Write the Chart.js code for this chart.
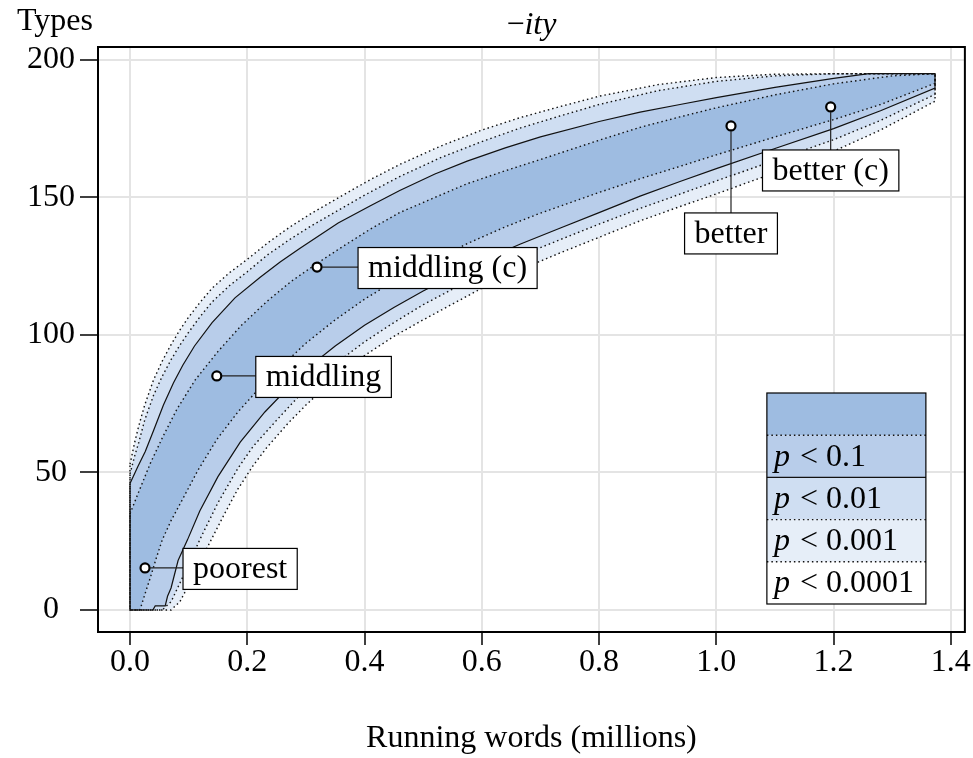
<!DOCTYPE html>
<html>
<head>
<meta charset="utf-8">
<script src="https://cdn.jsdelivr.net/npm/chart.js@4.4.1/dist/chart.umd.min.js"></script>
<style>
  html, body { margin: 0; padding: 0; background: #fff; }
  #wrap { width: 973px; height: 758px; }
</style>
</head>
<body>
<div id="wrap"><canvas id="chart" width="973" height="758"></canvas></div>
<script>
// TICKS
const xTicks = [0, 0.2, 0.4, 0.6, 0.8, 1.0, 1.2, 1.4];
const yTicks = [0, 50, 100, 150, 200];

// BAND EDGES [running words (millions), types]
const upper4 = [[0,53],[0.008,61],[0.015,67],[0.025,74.5],[0.04,83.6],[0.055,90.5],[0.07,96.5],[0.085,101.8],[0.1,106.5],[0.12,112],[0.14,117],[0.17,122.7],[0.2,127.5],[0.235,133.5],[0.273,139.3],[0.31,144.3],[0.358,150.2],[0.41,156.5],[0.46,162],[0.53,168.7],[0.6,174.5],[0.665,179],[0.733,183],[0.8,186.8],[0.9,191],[1.0,193.6],[1.1,194.8],[1.22,195],[1.373,195]];
const upper3 = [[0,49.5],[0.008,56],[0.015,61],[0.025,69],[0.04,78],[0.055,85],[0.07,91],[0.085,96.3],[0.1,101],[0.12,106.8],[0.14,112],[0.17,118],[0.2,123],[0.235,129.2],[0.273,134.8],[0.31,139.8],[0.358,145.7],[0.41,152],[0.46,157.6],[0.53,164.5],[0.6,170.3],[0.665,175.2],[0.733,179.6],[0.8,183.8],[0.9,188.8],[1.0,192.2],[1.1,194.2],[1.2,195],[1.373,195]];
const upper2 = [[0,46],[0.013,52],[0.026,57.6],[0.04,65.2],[0.057,74.5],[0.074,82.5],[0.09,89],[0.11,96],[0.14,104.5],[0.179,113.5],[0.222,121],[0.256,126.5],[0.29,131.5],[0.355,140.7],[0.41,147],[0.46,152.5],[0.52,158.5],[0.575,163.2],[0.64,168],[0.7,172],[0.8,177.6],[0.87,181],[0.938,183.8],[1.0,186.3],[1.1,190],[1.2,193.3],[1.26,195],[1.373,195]];
const upper1 = [[0,35],[0.014,42.5],[0.035,53.5],[0.056,63],[0.08,73],[0.111,83.6],[0.15,94],[0.19,103.5],[0.234,112.3],[0.275,119.5],[0.319,126],[0.358,131.5],[0.41,138.5],[0.46,144.5],[0.52,150],[0.575,155],[0.64,159.7],[0.7,163.8],[0.8,170.8],[0.87,175.5],[0.938,179.3],[1.0,182.6],[1.1,187.3],[1.2,191.3],[1.3,194.2],[1.373,195]];
const lower1 = [[0,0],[0.017,0],[0.025,5.5],[0.035,12],[0.045,19],[0.055,25.5],[0.07,32.5],[0.089,40],[0.115,50.5],[0.148,62],[0.184,72],[0.22,80.5],[0.25,87],[0.3,97],[0.35,105.5],[0.4,113],[0.45,119.5],[0.5,125.3],[0.575,133.2],[0.64,139.3],[0.7,144.3],[0.8,151.8],[0.87,156.8],[0.938,161.3],[1.0,165.5],[1.1,172],[1.2,178.3],[1.28,183.8],[1.373,191.5]];
const lower2 = [[0,0],[0.039,0],[0.043,1.5],[0.06,1.5],[0.064,5],[0.07,8],[0.082,18],[0.098,25.5],[0.119,36],[0.15,48.5],[0.188,61],[0.23,72],[0.3,87.5],[0.35,96],[0.4,103.5],[0.45,110],[0.5,116],[0.6,127],[0.665,133],[0.733,138.8],[0.8,144.5],[0.87,150.5],[0.938,155.8],[1.0,160.5],[1.1,167.8],[1.2,175],[1.28,181.5],[1.373,189.8]];
const lower3 = [[0,0],[0.055,0],[0.07,3],[0.09,12],[0.105,19],[0.12,26],[0.15,39],[0.184,51.5],[0.21,59.5],[0.25,69],[0.3,80.5],[0.35,89.5],[0.4,97.5],[0.45,104.5],[0.5,111],[0.6,122.3],[0.665,128.7],[0.733,134.6],[0.8,140.3],[0.87,146],[0.938,151.2],[1.0,156],[1.1,163.5],[1.2,171],[1.28,178],[1.373,187.5]];
const lower4 = [[0,0],[0.07,0],[0.085,3],[0.1,9],[0.115,15.5],[0.13,22],[0.16,34.5],[0.184,44],[0.21,52.5],[0.233,59],[0.27,68],[0.3,74.5],[0.35,84.5],[0.4,92.5],[0.45,99.5],[0.5,105.5],[0.6,117],[0.665,123.7],[0.733,129.8],[0.8,135.5],[0.87,141.5],[0.938,146.7],[1.0,151.3],[1.1,159],[1.2,166.8],[1.28,174.5],[1.373,185]];

// LABELLED POINTS
const labelNames = ['poorest', 'middling', 'middling (c)', 'better', 'better (c)'];
const labelX = [0.0256, 0.148, 0.319, 1.025, 1.195];
const labelY = [15.3, 85.1, 124.7, 176, 182.9];

// LEGEND
const legendThresholds = ['', '0.1', '0.01', '0.001', '0.0001'];

// styles / layout
const bandColors = ['#E6EEF8', '#CFDEF2', '#B8CDEA', '#9EBCE1'];
const edgeStyles = ['dotted', 'dotted', 'solid', 'dotted'];
const legendColors = ['#9EBCE1', '#B8CDEA', '#CFDEF2', '#E6EEF8', '#FFFFFF'];
const legendSeparators = ['dotted', 'solid', 'dotted', 'dotted'];
const labelSide = ['right', 'right', 'right', 'below', 'below'];
const labelGap = [38, 39, 41, 87, 43];
const serif = "'Liberation Serif', 'Times New Roman', serif";
const fs = 32;

function ring(upper, lower) {
    const pts = upper.concat(lower.slice().reverse());
    pts.push(upper[0]);
    return pts.map(([x, y]) => ({ x, y }));
}

function setEdge(ctx, style) {
    ctx.strokeStyle = '#111';
    if (style === 'dotted') { ctx.lineWidth = 1.4; ctx.setLineDash([1.5, 3]); }
    else { ctx.lineWidth = 1.2; ctx.setLineDash([]); }
}

const rings = [[upper4, lower4], [upper3, lower3], [upper2, lower2], [upper1, lower1]];

const datasets = [];
rings.forEach((r, i) => {
    datasets.push({
        data: ring(r[0], r[1]),
        fill: 'shape',
        backgroundColor: bandColors[i],
        borderWidth: 0,
        pointRadius: 0,
        order: 20 - i
    });
});
rings.forEach((r, i) => {
    const dotted = edgeStyles[i] === 'dotted';
    datasets.push({
        data: ring(r[0], r[1]),
        fill: false,
        borderColor: '#111',
        borderWidth: dotted ? 1.4 : 1.2,
        borderDash: dotted ? [1.5, 3] : [],
        pointRadius: 0,
        order: 10 - i
    });
});
datasets.push({
    data: labelX.map((x, i) => ({ x, y: labelY[i] })),
    showLine: false,
    pointRadius: 4.5,
    pointBackgroundColor: '#fff',
    pointBorderColor: '#000',
    pointBorderWidth: 2.2,
    order: 0
});

// Textes, cadre, étiquettes, légende
const extras = {
    id: 'extras',
    afterDatasetsDraw(chart) {
        const { ctx, chartArea: a, scales: { x, y } } = chart;
        ctx.save();
        ctx.fillStyle = '#000';
        ctx.textBaseline = 'middle';

        // frame
        ctx.setLineDash([]);
        ctx.strokeStyle = '#000';
        ctx.lineWidth = 2;
        ctx.strokeRect(a.left, a.top, a.right - a.left, a.bottom - a.top);

        // axis label on top + title
        ctx.font = fs + 'px ' + serif;
        ctx.textAlign = 'center';
        ctx.fillText('Types', 55, 22);
        const minus = '\u2212';
        const wm = ctx.measureText(minus).width;
        ctx.font = 'italic ' + fs + 'px ' + serif;
        const wi = ctx.measureText('ity').width;
        const cx = (a.left + a.right) / 2 - (wm + wi) / 2;
        ctx.textAlign = 'left';
        ctx.fillText('ity', cx + wm, 26);
        ctx.font = fs + 'px ' + serif;
        ctx.fillText(minus, cx, 26);

        // callouts
        const pad = 10, bh = 41;
        labelNames.forEach((name, i) => {
            const px = x.getPixelForValue(labelX[i]);
            const py = y.getPixelForValue(labelY[i]);
            const w = ctx.measureText(name).width + 2 * pad;
            let bx, by;
            ctx.strokeStyle = '#222';
            ctx.lineWidth = 1.2;
            ctx.beginPath();
            if (labelSide[i] === 'right') {
                bx = px + labelGap[i];
                by = py - bh / 2 + 1;
                ctx.moveTo(px + 5, py);
                ctx.lineTo(bx, py);
            } else {
                bx = px - w / 2;
                by = py + labelGap[i];
                ctx.moveTo(px, py + 5);
                ctx.lineTo(px, by);
            }
            ctx.stroke();
            ctx.fillStyle = '#fff';
            ctx.fillRect(bx, by, w, bh);
            ctx.strokeStyle = '#000';
            ctx.strokeRect(bx, by, w, bh);
            ctx.fillStyle = '#000';
            ctx.fillText(name, bx + pad, by + bh / 2 + 1);
        });

        // legend
        const lw = 159, rh = 42.2;
        const lx = a.right - 39 - lw;
        const ly = a.bottom - 28 - rh * legendColors.length;
        legendColors.forEach((c, i) => {
            ctx.fillStyle = c;
            ctx.fillRect(lx, ly + i * rh, lw, rh);
        });
        legendSeparators.forEach((s, i) => {
            setEdge(ctx, s);
            ctx.beginPath();
            ctx.moveTo(lx, ly + (i + 1) * rh);
            ctx.lineTo(lx + lw, ly + (i + 1) * rh);
            ctx.stroke();
        });
        ctx.setLineDash([]);
        ctx.strokeStyle = '#000';
        ctx.lineWidth = 1.2;
        ctx.strokeRect(lx, ly, lw, rh * legendColors.length);
        ctx.fillStyle = '#000';
        legendThresholds.forEach((t, i) => {
            if (!t) return;
            const ty = ly + i * rh + rh / 2 + 1;
            ctx.font = 'italic ' + fs + 'px ' + serif;
            ctx.fillText('p', lx + 7, ty);
            const wp = ctx.measureText('p ').width;
            ctx.font = fs + 'px ' + serif;
            ctx.fillText('< ' + t, lx + 7 + wp + 2, ty);
        });
        ctx.restore();
    }
};

const tickFont = { family: serif, size: fs, lineHeight: 1 };

new Chart(document.getElementById('chart'), {
    type: 'line',
    data: { datasets },
    options: {
        responsive: false,
        animation: false,
        events: [],
        layout: { padding: { top: 47, right: 8, bottom: 0, left: 0 } },
        plugins: { legend: { display: false }, tooltip: { enabled: false } },
        scales: {
            x: {
                type: 'linear',
                min: -0.0546,
                max: 1.4239,
                afterBuildTicks: (s) => { s.ticks = xTicks.map(v => ({ value: v })); },
                afterFit: (s) => { s.height = 126; },
                ticks: { font: tickFont, color: '#000', padding: 2, maxRotation: 0, autoSkip: false, callback: (v) => Number(v).toFixed(1) },
                grid: { color: '#e4e4e4', lineWidth: 2, tickLength: 13, tickColor: '#000', tickWidth: 1.5 },
                border: { display: false },
                title: { display: true, text: 'Running words (millions)', color: '#000', font: { family: serif, size: fs, lineHeight: 1.2 }, padding: 0 }
            },
            y: {
                min: -8,
                max: 204.7,
                afterBuildTicks: (s) => { s.ticks = yTicks.map(v => ({ value: v })); },
                afterFit: (s) => { s.width = 98; },
                ticks: { font: tickFont, color: '#000', padding: 5, crossAlign: 'center', callback: (v) => v },
                grid: { color: '#e4e4e4', lineWidth: 2, tickLength: 18, tickColor: '#000', tickWidth: 1.5 },
                border: { display: false }
            }
        }
    },
    plugins: [extras]
});
</script>
</body>
</html>
